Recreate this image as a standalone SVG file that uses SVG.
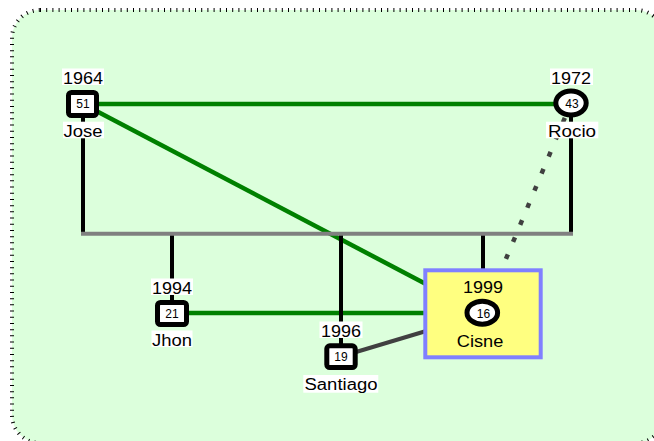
<svg xmlns="http://www.w3.org/2000/svg" width="654" height="441" viewBox="0 0 654 441">
  <style>
    .lbl { font-family: "Liberation Sans", Arial, sans-serif; font-size: 16px; fill: #000; text-anchor: middle; }
    .age { font-family: "Liberation Sans", Arial, sans-serif; font-size: 12px; fill: #000; text-anchor: middle; }
    .lblbg { fill: #ffffff; }
    .male { fill: #ffffff; stroke: #000; stroke-width: 5; }
    .female { fill: #ffffff; stroke: #000; stroke-width: 5; }
    .union { stroke: #008000; stroke-width: 4.5; fill: none; }
    .tie { stroke: #404040; stroke-width: 4; fill: none; }
    .distant { stroke: #404040; stroke-width: 4.5; fill: none; stroke-dasharray: 5 13.5; stroke-dashoffset: 2.5; }
    .kin { stroke: #000; stroke-width: 4; fill: none; }
    .sibbar { stroke: #808080; stroke-width: 4; fill: none; }
  </style>

  <!-- panel -->
  <rect x="12" y="10" width="652" height="433" rx="28" ry="28" fill="#dcffdc" stroke="#000" stroke-width="4" stroke-dasharray="1 5.2"/>

  <g id="connectors">
    <!-- relationships -->
    <line class="union" x1="83" y1="104" x2="571" y2="104"/>
    <line class="union" x1="83" y1="104" x2="483" y2="314"/>
    <line class="union" x1="172" y1="313" x2="483" y2="313"/>
    <line class="tie" x1="341" y1="356.5" x2="483" y2="314"/>
    <line class="distant" x1="571" y1="103" x2="483" y2="314"/>
    <!-- descent -->
    <line class="kin" x1="83" y1="104" x2="83" y2="233"/>
    <line class="kin" x1="571" y1="103" x2="571" y2="233"/>
    <line class="kin" x1="172" y1="234" x2="172" y2="313"/>
    <line class="kin" x1="341" y1="234" x2="341" y2="356"/>
    <line class="kin" x1="483" y1="234" x2="483" y2="270"/>
    <line class="sibbar" x1="81" y1="233.7" x2="573" y2="233.7"/>
  </g>

  <g id="jose">
    <rect class="male" x="68.5" y="92.5" width="28" height="23" rx="3"/>
    <text class="age" x="83" y="108.3">51</text>
    <rect class="lblbg" x="62" y="68.5" width="42" height="16.5"/>
    <text class="lbl" x="83" y="84" textLength="40" lengthAdjust="spacingAndGlyphs">1964</text>
    <rect class="lblbg" x="63" y="121.7" width="41" height="16.6"/>
    <text class="lbl" x="83" y="137" textLength="39" lengthAdjust="spacingAndGlyphs">Jose</text>
  </g>

  <g id="rocio">
    <ellipse class="female" cx="571" cy="103" rx="15.2" ry="12"/>
    <text class="age" x="572" y="108.3">43</text>
    <rect class="lblbg" x="550" y="68.5" width="43" height="16.5"/>
    <text class="lbl" x="571" y="84" textLength="40" lengthAdjust="spacingAndGlyphs">1972</text>
    <rect class="lblbg" x="546" y="121.7" width="52.3" height="16.6"/>
    <text class="lbl" x="572" y="137" textLength="48" lengthAdjust="spacingAndGlyphs">Rocio</text>
  </g>

  <g id="jhon">
    <rect class="male" x="157.5" y="302.5" width="29" height="22" rx="3"/>
    <text class="age" x="172" y="317.5">21</text>
    <rect class="lblbg" x="151" y="278.5" width="42" height="16.5"/>
    <text class="lbl" x="172" y="293.5" textLength="40" lengthAdjust="spacingAndGlyphs">1994</text>
    <rect class="lblbg" x="151.5" y="330.5" width="41" height="16.6"/>
    <text class="lbl" x="172" y="346" textLength="40" lengthAdjust="spacingAndGlyphs">Jhon</text>
  </g>

  <g id="santiago">
    <rect class="male" x="326.8" y="345.8" width="28.4" height="21.7" rx="3"/>
    <text class="age" x="341" y="361">19</text>
    <rect class="lblbg" x="319.5" y="321.5" width="43" height="16.5"/>
    <text class="lbl" x="341" y="336.5" textLength="40" lengthAdjust="spacingAndGlyphs">1996</text>
    <rect class="lblbg" x="303.3" y="375" width="75" height="17.7"/>
    <text class="lbl" x="341" y="390" textLength="73" lengthAdjust="spacingAndGlyphs">Santiago</text>
  </g>

  <g id="cisne">
    <rect x="425.3" y="270.3" width="115.4" height="87" fill="#ffff80" stroke="#8080ff" stroke-width="4"/>
    <ellipse class="female" cx="482.3" cy="312.7" rx="15.3" ry="11.5"/>
    <text class="age" x="483.5" y="317.5">16</text>
    <text class="lbl" x="483" y="293.3" textLength="40" lengthAdjust="spacingAndGlyphs">1999</text>
    <text class="lbl" x="480" y="346.7" textLength="46.5" lengthAdjust="spacingAndGlyphs">Cisne</text>
  </g>
</svg>
